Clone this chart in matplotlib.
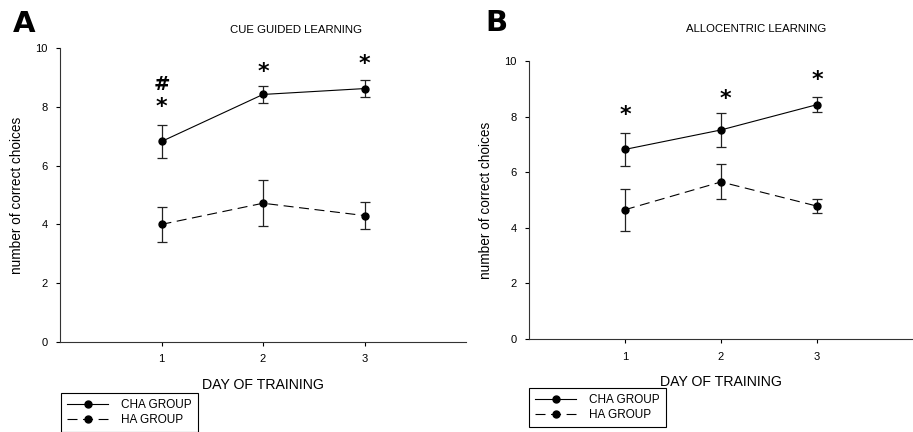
import matplotlib

matplotlib.use("Agg")
import matplotlib.pyplot as plt
from matplotlib.lines import Line2D

plt.rcParams["font.family"] = ["Liberation Sans", "DejaVu Sans"]

DAYS = [1, 2, 3]

# panel A: cue guided learning
CUE_CHA = [6.82, 8.42, 8.62]
CUE_CHA_ERR = [0.55, 0.3, 0.3]
CUE_HA = [4.0, 4.72, 4.3]
CUE_HA_ERR = [0.6, 0.78, 0.47]
CUE_MARKS = [("*", 1, 8.0), ("#", 1, 8.75), ("*", 2, 9.2), ("*", 3, 9.45)]

# panel B: allocentric learning
ALLO_CHA = [6.82, 7.52, 8.43]
ALLO_CHA_ERR = [0.6, 0.62, 0.27]
ALLO_HA = [4.65, 5.65, 4.78]
ALLO_HA_ERR = [0.75, 0.63, 0.25]
ALLO_MARKS = [("*", 1, 8.05), ("*", 2.05, 8.65), ("*", 3, 9.3)]

DASH = (9, 5)


def draw_panel(fig, rect, cha, cha_err, ha, ha_err, marks, title, letter, title_xy, letter_xy, legend_xy):
    ax = fig.add_axes(rect)
    ax.errorbar(DAYS, cha, yerr=cha_err, fmt="none", ecolor="#222222",
                elinewidth=0.9, capsize=3.5, capthick=0.9)
    ax.errorbar(DAYS, ha, yerr=ha_err, fmt="none", ecolor="#222222",
                elinewidth=0.9, capsize=3.5, capthick=0.9)
    ax.plot(DAYS, cha, color="black", linewidth=0.8, marker="o", markersize=5)
    ax.plot(DAYS, ha, color="black", linewidth=0.8, marker="o", markersize=5,
            dashes=DASH)

    for sym, x, y in marks:
        ax.text(x, y, sym, ha="center", va="center", fontsize=16 if sym == "*" else 14,
                fontweight="bold", family="DejaVu Sans")

    ax.set_xlim(0, 4)
    ax.set_ylim(0, 10)
    ax.set_xticks(DAYS)
    ax.set_yticks([0, 2, 4, 6, 8, 10])
    ax.spines["top"].set_visible(False)
    ax.spines["right"].set_visible(False)
    for side in ("left", "bottom"):
        ax.spines[side].set_linewidth(0.8)
        ax.spines[side].set_color("#333333")
    ax.tick_params(direction="out", length=3, width=0.8, labelsize=8, pad=6)
    ax.set_xlabel("DAY OF TRAINING", fontsize=10.2, labelpad=10)
    ax.set_ylabel("number of correct choices", fontsize=9.8, labelpad=8)

    fig.text(title_xy[0], title_xy[1], title, ha="center", va="center", fontsize=8.2)
    fig.text(letter_xy[0], letter_xy[1], letter, ha="left", va="center",
             fontsize=21, fontweight="heavy", family="DejaVu Sans")

    handles = [
        Line2D([], [], color="black", linewidth=0.8, marker="o", markersize=5),
        Line2D([], [], color="black", linewidth=0.8, marker="o", markersize=5, dashes=DASH),
    ]
    leg = fig.legend(handles, ["CHA GROUP", "HA GROUP"], loc="upper left",
                     bbox_to_anchor=legend_xy, bbox_transform=fig.transFigure,
                     fontsize=8.5, handlelength=3.5, handletextpad=1.1,
                     labelspacing=0.25, borderpad=0.5, borderaxespad=0,
                     fancybox=False, framealpha=1, edgecolor="black", numpoints=1)
    leg.get_frame().set_linewidth(0.8)
    return ax


fig = plt.figure(figsize=(9.13, 4.32), dpi=100)

draw_panel(fig, [60 / 913, 1 - 342 / 432, 406 / 913, 294 / 432],
           CUE_CHA, CUE_CHA_ERR, CUE_HA, CUE_HA_ERR, CUE_MARKS,
           "CUE GUIDED LEARNING", "A",
           (296 / 913, 1 - 30 / 432), (13 / 913, 1 - 24 / 432),
           (61 / 913, 1 - 393 / 432))

draw_panel(fig, [529 / 913, 1 - 339 / 432, 384 / 913, 278 / 432],
           ALLO_CHA, ALLO_CHA_ERR, ALLO_HA, ALLO_HA_ERR, ALLO_MARKS,
           "ALLOCENTRIC LEARNING", "B",
           (756 / 913, 1 - 29 / 432), (485 / 913, 1 - 23 / 432),
           (529 / 913, 1 - 388 / 432))

fig.savefig("out.png", dpi=100, facecolor="white")
plt.close(fig)
